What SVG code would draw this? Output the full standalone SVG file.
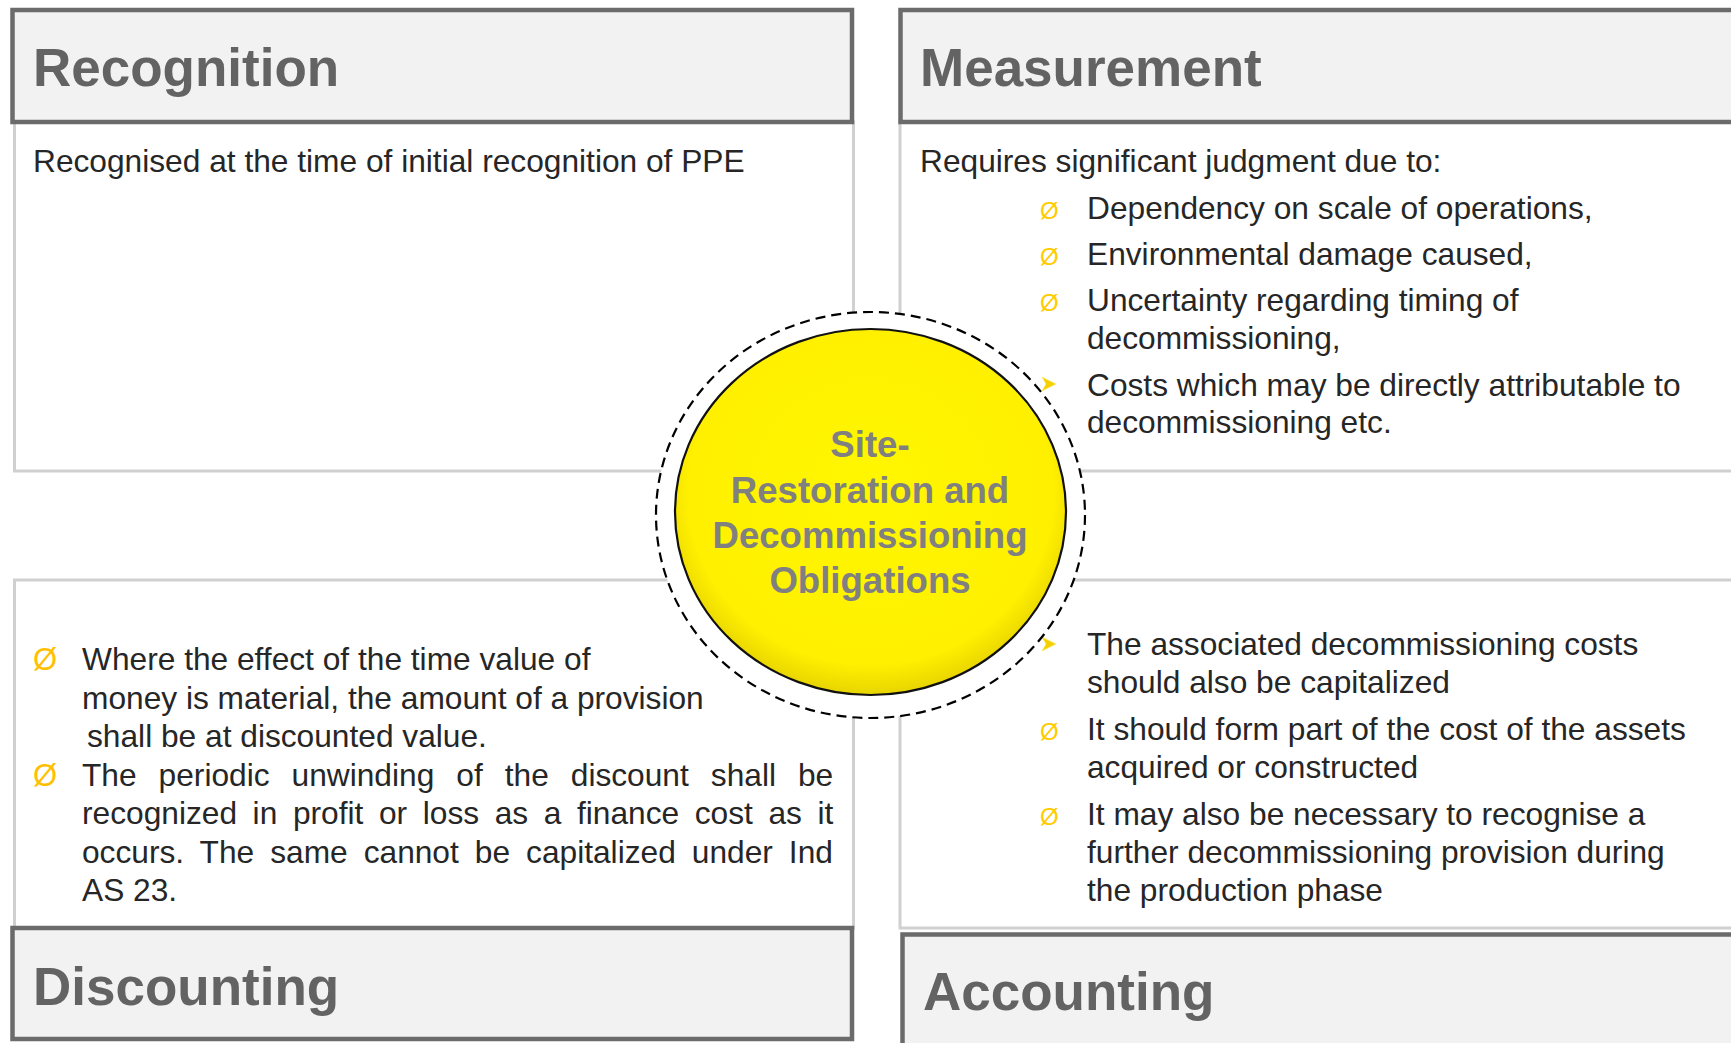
<svg xmlns="http://www.w3.org/2000/svg" width="1731" height="1043" viewBox="0 0 1731 1043">
<style>
.hdr{fill:#f2f2f2;stroke:#6b6b6b;stroke-width:4.5}
.body{fill:#ffffff;stroke:#d0d0d0;stroke-width:3}
.title{font-family:"Liberation Sans",Arial,sans-serif;font-weight:bold;font-size:53px;fill:#636363}
.txt{font-family:"Liberation Sans",Arial,sans-serif;font-size:31.7px;fill:#262626}
.bs{font-family:"Liberation Sans",Arial,sans-serif;font-size:24px;fill:#FFCC00}
.bl{font-family:"Liberation Sans",Arial,sans-serif;font-size:31px;fill:#FFC000}
.arr{fill:#F5D000;stroke:#FFE866;stroke-width:0.8;stroke-linejoin:round}
.ctr{font-family:"Liberation Sans",Arial,sans-serif;font-weight:bold;font-size:36.6px;fill:#808080;text-anchor:middle}
</style>
<defs>
<radialGradient id="yg" cx="50%" cy="45%" r="55%">
<stop offset="0%" stop-color="#FFF700"/>
<stop offset="85%" stop-color="#FFF000"/>
<stop offset="100%" stop-color="#E8D400"/>
</radialGradient>
</defs>
<rect width="1731" height="1043" fill="#ffffff"/>

<g id="recognition">
<rect class="body" x="14.5" y="122" width="839" height="349"/>
<rect class="hdr" x="12.5" y="10" width="839.5" height="112"/>
<text class="title" x="33" y="86">Recognition</text>
<text class="txt" x="33" y="172">Recognised at the time of initial recognition of PPE</text>
</g>

<g id="measurement">
<rect class="body" x="900" y="122" width="840" height="349"/>
<rect class="hdr" x="900.5" y="10" width="840" height="112"/>
<text class="title" x="920" y="86">Measurement</text>
<text class="txt" x="920" y="172">Requires significant judgment due to:</text>
<text class="bs" x="1040" y="219">Ø</text>
<text class="txt" x="1087" y="219">Dependency on scale of operations,</text>
<text class="bs" x="1040" y="265">Ø</text>
<text class="txt" x="1087" y="265">Environmental damage caused,</text>
<text class="bs" x="1040" y="311">Ø</text>
<text class="txt" x="1087" y="311">Uncertainty regarding timing of</text>
<text class="txt" x="1087" y="349">decommissioning,</text>
<polygon class="arr" points="1042,377 1056,384 1042,391 1046,384"/>
<text class="txt" x="1087" y="396">Costs which may be directly attributable to</text>
<text class="txt" x="1087" y="433">decommissioning etc.</text>
</g>

<g id="discounting">
<rect class="body" x="14.5" y="580" width="839" height="348"/>
<rect class="hdr" x="12.5" y="928" width="839.5" height="111"/>
<text class="title" x="33" y="1005">Discounting</text>
<text class="bl" x="33" y="670">Ø</text>
<text class="txt" x="82" y="670">Where the effect of the time value of</text>
<text class="txt" x="82" y="709">money is material, the amount of a provision</text>
<text class="txt" x="87" y="747">shall be at discounted value.</text>
<text class="bl" x="33" y="786">Ø</text>
<text class="txt" x="82" y="786" word-spacing="13.2">The periodic unwinding of the discount shall be</text>
<text class="txt" x="82" y="824" word-spacing="6.8">recognized in profit or loss as a finance cost as it</text>
<text class="txt" x="82" y="863" word-spacing="7.2">occurs. The same cannot be capitalized under Ind</text>
<text class="txt" x="82" y="901">AS 23.</text>
</g>

<g id="accounting">
<rect class="body" x="900" y="580" width="840" height="348"/>
<rect class="hdr" x="902.5" y="934.5" width="840" height="120"/>
<text class="title" x="923" y="1010">Accounting</text>
<polygon class="arr" points="1042,637 1056,644 1042,651 1046,644"/>
<text class="txt" x="1087" y="655">The associated decommissioning costs</text>
<text class="txt" x="1087" y="693">should also be capitalized</text>
<text class="bs" x="1040" y="740">Ø</text>
<text class="txt" x="1087" y="740">It should form part of the cost of the assets</text>
<text class="txt" x="1087" y="778">acquired or constructed</text>
<text class="bs" x="1040" y="825">Ø</text>
<text class="txt" x="1087" y="825">It may also be necessary to recognise a</text>
<text class="txt" x="1087" y="863">further decommissioning provision during</text>
<text class="txt" x="1087" y="901">the production phase</text>
</g>

<g id="connectors"></g>

<g id="center">
<ellipse cx="870.5" cy="515" rx="214.5" ry="203" fill="#ffffff" stroke="#000000" stroke-width="2.2" stroke-dasharray="10 6"/>
<ellipse cx="870.5" cy="512" rx="195.5" ry="183" fill="url(#yg)" stroke="#111111" stroke-width="2.2"/>
<text class="ctr" x="870" y="457">Site-</text>
<text class="ctr" x="870" y="503">Restoration and</text>
<text class="ctr" x="870" y="548">Decommissioning</text>
<text class="ctr" x="870" y="593">Obligations</text>
</g>
</svg>
